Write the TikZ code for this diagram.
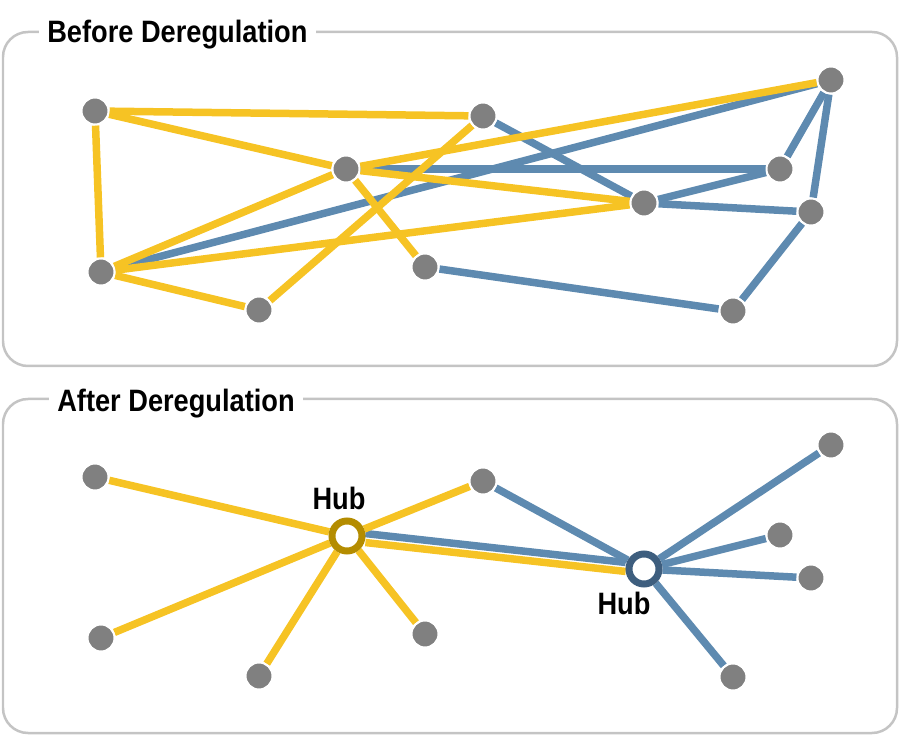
\documentclass[tikz,border=0pt]{standalone}
\usepackage{fontspec}
\setmainfont{Liberation Sans}
\newfontfamily\narrowsans[FakeStretch=0.88]{Liberation Sans}
\usepackage{tikz}
\usetikzlibrary{backgrounds}
\definecolor{edgeyellow}{HTML}{F6C324}
\definecolor{edgeblue}{HTML}{5E8AB0}
\definecolor{hubyellow}{HTML}{B48C00}
\definecolor{hubblue}{HTML}{3E5E7E}
\definecolor{citygray}{HTML}{808080}
\definecolor{framegray}{HTML}{C4C4C4}
\tikzset{
    city/.style={
        circle, fill=citygray, draw=white,
        line width=0.04cm, minimum size=0.54cm, inner sep=0pt
    },
    hubnode/.style={
        circle, fill=white,
        line width=0.14cm, minimum size=0.6cm, inner sep=0pt
    },
    yline/.style={line width=0.15cm, color=edgeyellow},
    bline/.style={line width=0.15cm, color=edgeblue},
    panel/.style={draw=framegray, line width=0.05cm, rounded corners=0.5cm},
    paneltitle/.style={
        font=\narrowsans\bfseries\fontsize{17.6}{20}\selectfont,
        fill=white, inner xsep=0.17cm, inner ysep=0pt, anchor=base west
    },
    hublabel/.style={
        font=\narrowsans\bfseries\fontsize{17.6}{20}\selectfont,
        inner sep=0pt, anchor=base
    },
}

\begin{document}
\begin{tikzpicture}[x=0.02cm, y=-0.02cm]
    \path[use as bounding box] (0,0) rectangle (900,736);

    % Panels
    \draw[panel] (3,32) rectangle (897,366);
    \draw[panel] (3,399) rectangle (897,733);
    \node[paneltitle] (before) at (38.5,43) {Before Deregulation};
    \node[paneltitle] (after) at (48.5,412) {After Deregulation};

    % Nodes (before)
    \node[city] (a1) at (95,111) {};
    \node[city] (b1) at (483,116) {};
    \node[city] (c1) at (346,169) {};
    \node[city] (d1) at (831,80) {};
    \node[city] (e1) at (780,169) {};
    \node[city] (f1) at (644,203) {};
    \node[city] (g1) at (811,212) {};
    \node[city] (h1) at (101,272) {};
    \node[city] (i1) at (259,310) {};
    \node[city] (j1) at (425,267) {};
    \node[city] (k1) at (733,311) {};

    % Nodes (after)
    \node[city] (a2) at (95,477) {};
    \node[city] (b2) at (483,481) {};
    \node[city] (d2) at (831,445) {};
    \node[city] (e2) at (780,535) {};
    \node[city] (g2) at (811,578) {};
    \node[city] (h2) at (101,638) {};
    \node[city] (i2) at (259,676) {};
    \node[city] (j2) at (425,634) {};
    \node[city] (k2) at (733,677) {};
    \node[hubnode, draw=hubyellow] (hubw) at (347,536) {};
    \node[hubnode, draw=hubblue] (hube) at (644,569) {};

    % Hub labels
    \node[hublabel] (hubwlabel) at (339,510) {Hub};
    \node[hublabel] (hubelabel) at (624,615) {Hub};

    \begin{scope}[on background layer]
        % Routes (before)
        \draw[bline] (h1) -- (d1);
        \draw[bline] (c1) -- (e1);
        \draw[bline] (b1) -- (f1);
        \draw[bline] (f1) -- (e1);
        \draw[bline] (f1) -- (g1);
        \draw[bline] (d1) -- (e1);
        \draw[bline] (d1) -- (g1);
        \draw[bline] (g1) -- (k1);
        \draw[bline] (j1) -- (k1);
        \draw[yline] (a1) -- (b1);
        \draw[yline] (a1) -- (c1);
        \draw[yline] (a1) -- (h1);
        \draw[yline] (h1) -- (c1);
        \draw[yline] (h1) -- (f1);
        \draw[yline] (h1) -- (i1);
        \draw[yline] (i1) -- (b1);
        \draw[yline] (c1) -- (d1);
        \draw[yline] (c1) -- (f1);
        \draw[yline] (c1) -- (j1);

        % Routes (after)
        \draw[bline] (b2) -- (hube);
        \draw[bline] (hube) -- (d2);
        \draw[bline] (hube) -- (e2);
        \draw[bline] (hube) -- (g2);
        \draw[bline] (hube) -- (k2);
        \draw[bline, transform canvas={yshift=0.09cm}] (hubw) -- (hube);
        \draw[yline, transform canvas={yshift=-0.09cm}] (hubw) -- (hube);
        \draw[yline] (a2) -- (hubw);
        \draw[yline] (hubw) -- (b2);
        \draw[yline] (hubw) -- (h2);
        \draw[yline] (hubw) -- (i2);
        \draw[yline] (hubw) -- (j2);
    \end{scope}

\end{tikzpicture}
\end{document}
